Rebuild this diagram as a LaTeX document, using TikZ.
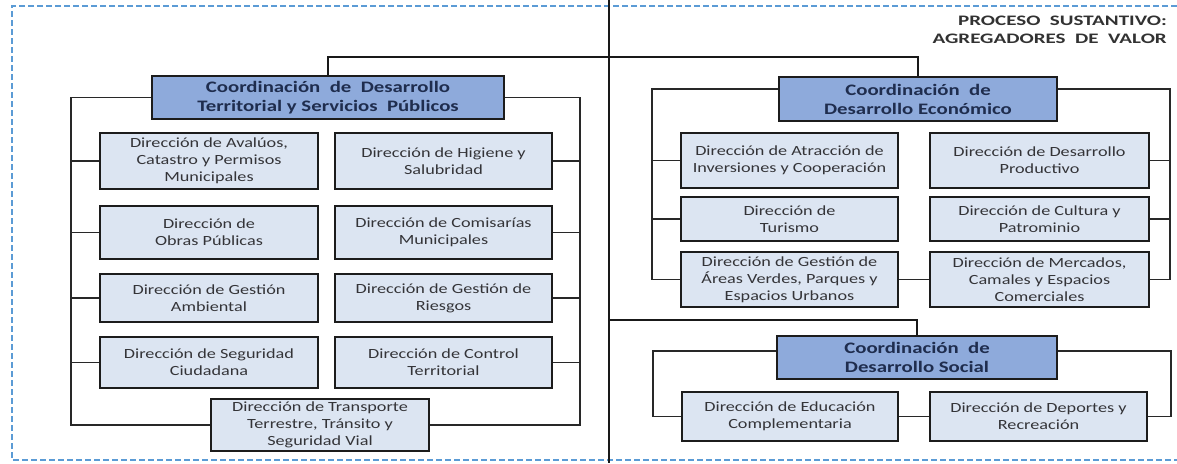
\documentclass[tikz,border=0pt]{standalone}
\usepackage{fontspec}
\setmainfont{Carlito}[FakeStretch=1.3]
\newfontfamily\headfont{Carlito}[FakeStretch=1.45]
\usepackage{tikz}

\begin{document}
\begin{tikzpicture}[x=1pt,y=1pt,yscale=-1,xscale=1,
coordbox/.style={draw={rgb, 255:red, 28; green, 28; blue, 28 }, line width=2pt, fill={rgb, 255:red, 142; green, 170; blue, 219 }, text={rgb, 255:red, 31; green, 45; blue, 78 }, font=\fontsize{16}{19}\selectfont\bfseries, align=center, inner sep=0pt},
dirbox/.style={draw={rgb, 255:red, 28; green, 28; blue, 28 }, line width=2pt, fill={rgb, 255:red, 220; green, 229; blue, 242 }, text={rgb, 255:red, 52; green, 52; blue, 56 }, font=\fontsize{14}{17}\selectfont, align=center, inner sep=0pt},
link/.style={draw={rgb, 255:red, 40; green, 40; blue, 40 }, line width=1.5pt},
trunk/.style={draw={rgb, 255:red, 25; green, 25; blue, 25 }, line width=2.2pt},
frame/.style={draw={rgb, 255:red, 91; green, 155; blue, 213 }, line width=1.2pt, dash pattern={on 6pt off 3pt}},
heading/.style={text={rgb, 255:red, 50; green, 50; blue, 50 }, font=\headfont\fontsize{14.5}{18}\selectfont\bfseries, align=right, inner sep=0pt}
]
\useasboundingbox (0,0) rectangle (1177,463);

%Dashed frame
\draw [frame] (1177,6) -- (12,6) -- (12,460) -- (1177,460) ;

% Text Node
\node [heading, anchor=north east] (titulo) at (1167,16) {PROCESO~ SUSTANTIVO:\\AGREGADORES~ DE~ VALOR};

%Coordinaciones
\node [coordbox, minimum width=352pt, minimum height=43pt] (coordTer) at (328,97.5) {Coordinación~ de~ Desarrollo\\Territorial y Servicios~ Públicos};
\node [coordbox, minimum width=278pt, minimum height=44pt] (coordEco) at (918,99) {Coordinación~ de\\Desarrollo Económico};
\node [coordbox, minimum width=280pt, minimum height=43pt] (coordSoc) at (917,357.5) {Coordinación~ de\\Desarrollo Social};

%Direcciones: territorial
\node [dirbox, minimum width=218pt, minimum height=56pt] (avaluos) at (209,161) {Dirección de Avalúos,\\Catastro y Permisos\\Municipales};
\node [dirbox, minimum width=217pt, minimum height=56pt] (higiene) at (443.5,161) {Dirección de Higiene y\\Salubridad};
\node [dirbox, minimum width=218pt, minimum height=53pt] (obras) at (209,232.5) {Dirección de\\Obras Públicas};
\node [dirbox, minimum width=217pt, minimum height=53pt] (comisarias) at (443.5,232.5) {Dirección de Comisarías\\Municipales};
\node [dirbox, minimum width=218pt, minimum height=48pt] (ambiental) at (209,298) {Dirección de Gestión\\Ambiental};
\node [dirbox, minimum width=217pt, minimum height=48pt] (riesgos) at (443.5,298) {Dirección de Gestión de\\Riesgos};
\node [dirbox, minimum width=218pt, minimum height=51pt] (seguridad) at (209,362.5) {Dirección de Seguridad\\Ciudadana};
\node [dirbox, minimum width=217pt, minimum height=51pt] (control) at (443.5,362.5) {Dirección de Control\\Territorial};
\node [dirbox, minimum width=218pt, minimum height=52pt] (transporte) at (320,425) {Dirección de Transporte\\Terrestre, Tránsito y\\Seguridad Vial};

%Direcciones: economico
\node [dirbox, minimum width=217pt, minimum height=55pt] (atraccion) at (789.5,160.5) {Dirección de Atracción de\\Inversiones y Cooperación};
\node [dirbox, minimum width=219pt, minimum height=55pt] (productivo) at (1039.5,160.5) {Dirección de Desarrollo\\Productivo};
\node [dirbox, minimum width=217pt, minimum height=44pt] (turismo) at (789.5,219) {Dirección de\\Turismo};
\node [dirbox, minimum width=219pt, minimum height=44pt] (cultura) at (1039.5,219) {Dirección de Cultura y\\Patrominio};
\node [dirbox, minimum width=217pt, minimum height=55pt] (areas) at (789.5,279.5) {Dirección de Gestión de\\Áreas Verdes, Parques y\\Espacios Urbanos};
\node [dirbox, minimum width=219pt, minimum height=55pt] (mercados) at (1039.5,279.5) {Dirección de Mercados,\\Camales y Espacios\\Comerciales};

%Direcciones: social
\node [dirbox, minimum width=216pt, minimum height=49pt] (educacion) at (790,416.5) {Dirección de Educación\\Complementaria};
\node [dirbox, minimum width=217pt, minimum height=49pt] (deportes) at (1038.5,416.5) {Dirección de Deportes y\\Recreación};

%Trunk lines
\coordinate (axisTop) at (609,0);
\coordinate (axisBot) at (609,463);
\coordinate (topRail) at (0,57);
\coordinate (socRail) at (609,320);
\draw [trunk] (axisTop) -- (axisBot) ;
\draw [trunk] (coordTer.north) -- (coordTer.north |- topRail) -| (coordEco.north) ;
\draw [trunk] (socRail) -| (coordSoc.north) ;

%Brackets: territorial
\coordinate (terL) at (71,425);
\coordinate (terR) at (580,425);
\draw [link] (coordTer.west) -| (terL) -- (transporte.west) ;
\draw [link] (coordTer.east) -| (terR) -- (transporte.east) ;
\draw [link] (avaluos.west) -- (avaluos.west -| terL) ;
\draw [link] (obras.west) -- (obras.west -| terL) ;
\draw [link] (ambiental.west) -- (ambiental.west -| terL) ;
\draw [link] (seguridad.west) -- (seguridad.west -| terL) ;
\draw [link] (higiene.east) -- (higiene.east -| terR) ;
\draw [link] (comisarias.east) -- (comisarias.east -| terR) ;
\draw [link] (riesgos.east) -- (riesgos.east -| terR) ;
\draw [link] (control.east) -- (control.east -| terR) ;

%Brackets: economico
\coordinate (ecoL) at (652,89);
\coordinate (ecoR) at (1170,89);
\draw [link] (coordEco.west |- ecoL) -- (ecoL) |- (areas.west) ;
\draw [link] (coordEco.east |- ecoR) -- (ecoR) |- (mercados.east) ;
\draw [link] (areas.east) -- (mercados.west) ;
\draw [link] (atraccion.west) -- (atraccion.west -| ecoL) ;
\draw [link] (turismo.west) -- (turismo.west -| ecoL) ;
\draw [link] (productivo.east) -- (productivo.east -| ecoR) ;
\draw [link] (cultura.east) -- (cultura.east -| ecoR) ;

%Brackets: social
\coordinate (socL) at (653,351);
\coordinate (socR) at (1171,351);
\draw [link] (coordSoc.west |- socL) -- (socL) |- (educacion.west) ;
\draw [link] (coordSoc.east |- socR) -- (socR) |- (deportes.east) ;
\draw [link] (educacion.east) -- (deportes.west) ;

\end{tikzpicture}
\end{document}
